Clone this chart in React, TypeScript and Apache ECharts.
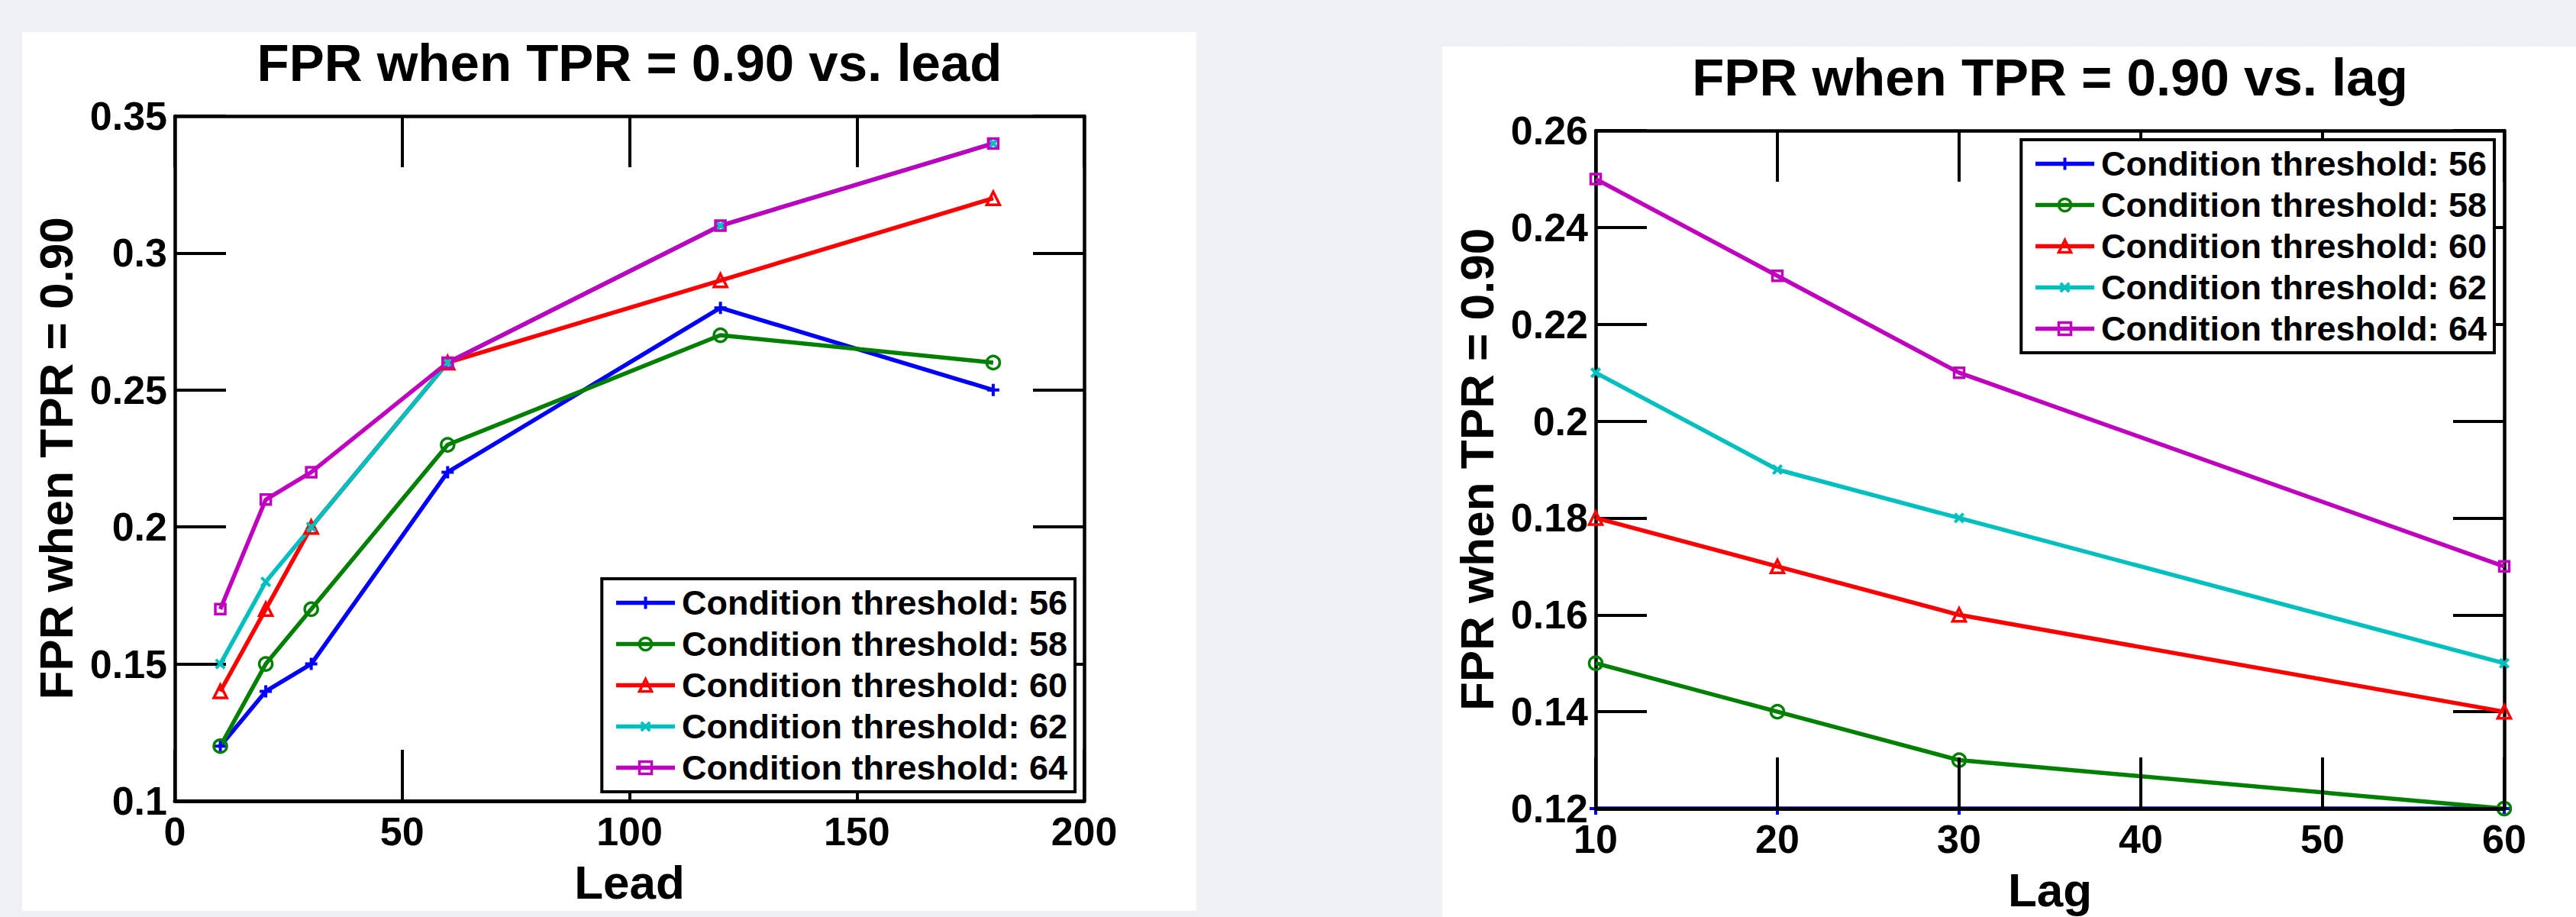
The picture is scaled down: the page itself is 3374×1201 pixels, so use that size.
import React, { useEffect, useRef } from "react";
import * as echarts from "echarts";

const FONT = '"Liberation Sans", Arial, Helvetica, sans-serif';

// ---------- data ----------
const seriesNames = [
  "Condition threshold: 56",
  "Condition threshold: 58",
  "Condition threshold: 60",
  "Condition threshold: 62",
  "Condition threshold: 64",
];

const leadTitle = "FPR when TPR = 0.90 vs. lead";
const leadXName = "Lead";
const leadX = [10, 20, 30, 60, 120, 180];
const lead56 = [0.12, 0.14, 0.15, 0.22, 0.28, 0.25];
const lead58 = [0.12, 0.15, 0.17, 0.23, 0.27, 0.26];
const lead60 = [0.14, 0.17, 0.2, 0.26, 0.29, 0.32];
const lead62 = [0.15, 0.18, 0.2, 0.26, 0.31, 0.34];
const lead64 = [0.17, 0.21, 0.22, 0.26, 0.31, 0.34];
const leadXTicks = [0, 50, 100, 150, 200];
const leadYTicks = [0.1, 0.15, 0.2, 0.25, 0.3, 0.35];

const lagTitle = "FPR when TPR = 0.90 vs. lag";
const lagXName = "Lag";
const lagX = [10, 20, 30, 60];
const lag56 = [0.12, 0.12, 0.12, 0.12];
const lag58 = [0.15, 0.14, 0.13, 0.12];
const lag60 = [0.18, 0.17, 0.16, 0.14];
const lag62 = [0.21, 0.19, 0.18, 0.15];
const lag64 = [0.25, 0.23, 0.21, 0.17];
const lagXTicks = [10, 20, 30, 40, 50, 60];
const lagYTicks = [0.12, 0.14, 0.16, 0.18, 0.2, 0.22, 0.24, 0.26];

const yName = "FPR when TPR = 0.90";

// ---------- styles ----------
const seriesColors = ["#0000ff", "#008000", "#ff0000", "#00bfbf", "#bf00bf"];
const PLUS = "path://M6,0H10V6H16V10H10V16H6V10H0V6H6Z";
const markerSymbols = [PLUS, "circle", "triangle", PLUS, "rect"];
const markerRotate = [0, 0, 0, 45, 0];
const markerSizes = [16, 17, 17, 16, 13];
const markerHollow = [false, true, true, false, true];

function tickInterval(t: number[]) {
  return +(t[1] - t[0]).toFixed(6);
}

function buildSeries(xs: number[], ys: number[][], underAxis: number[]) {
  return ys.map((vals, i) => {
    const c = seriesColors[i];
    return {
      type: "line",
      name: seriesNames[i],
      data: xs.map((x, j) => [x, vals[j]]),
      symbol: markerSymbols[i],
      symbolSize: markerSizes[i],
      symbolRotate: markerRotate[i],
      showSymbol: true,
      showAllSymbol: true,
      z: underAxis.indexOf(i) >= 0 ? -1 : 2,
      lineStyle: { color: c, width: 5.5 },
      itemStyle: markerHollow[i]
        ? { color: "rgba(0,0,0,0)", borderColor: c, borderWidth: 3.5 }
        : { color: c, borderColor: c, borderWidth: 0 },
      emphasis: { disabled: true },
    };
  });
}

const labelStyle = {
  fontSize: 52,
  fontWeight: "bold" as const,
  fontFamily: FONT,
  color: "#000",
};

function axisBase(extra: any) {
  return {
    type: "value",
    splitLine: { show: false },
    axisLine: { show: true, onZero: false, lineStyle: { color: "#000", width: 4.5 } },
    axisTick: { show: true, inside: true, length: 67, lineStyle: { color: "#000", width: 4 } },
    ...extra,
  };
}

function buildOption(cfg: {
  title: string;
  titleX: number;
  xName: string;
  xs: number[];
  ys: number[][];
  xTicks: number[];
  yTicks: number[];
  grid: { left: number; top: number; width: number; height: number };
  legendPos: any;
  underAxis: number[];
}) {
  const xMin = cfg.xTicks[0];
  const xMax = cfg.xTicks[cfg.xTicks.length - 1];
  const xInt = tickInterval(cfg.xTicks);
  const yMin = cfg.yTicks[0];
  const yMax = cfg.yTicks[cfg.yTicks.length - 1];
  const yInt = tickInterval(cfg.yTicks);
  return {
    animation: false,
    title: {
      text: cfg.title,
      left: cfg.titleX,
      top: 5.5,
      padding: 0,
      textAlign: "center",
      textStyle: { fontSize: 69, fontWeight: "bold", fontFamily: FONT, color: "#000" },
    },
    grid: { ...cfg.grid, containLabel: false },
    xAxis: [
      axisBase({
        position: "bottom",
        min: xMin,
        max: xMax,
        interval: xInt,
        z: 3,
        axisLine: { show: true, onZero: false, lineStyle: { color: "#000", width: 5 } },
        axisLabel: { ...labelStyle, margin: 14 },
        name: cfg.xName,
        nameLocation: "middle",
        nameGap: 75,
        nameTextStyle: { fontSize: 62, fontWeight: "bold", fontFamily: FONT, color: "#000" },
      }),
      axisBase({
        position: "top",
        min: xMin,
        max: xMax,
        interval: xInt,
        axisLabel: { show: false },
      }),
    ],
    yAxis: [
      axisBase({
        position: "left",
        min: yMin,
        max: yMax,
        interval: yInt,
        axisLabel: { ...labelStyle, margin: 10 },
        name: yName,
        nameLocation: "middle",
        nameGap: 125,
        nameTextStyle: { fontSize: 62, fontWeight: "bold", fontFamily: FONT, color: "#000" },
      }),
      axisBase({
        position: "right",
        min: yMin,
        max: yMax,
        interval: yInt,
        axisLabel: { show: false },
      }),
    ],
    legend: {
      orient: "vertical",
      ...cfg.legendPos,
      backgroundColor: "#fff",
      borderColor: "#000",
      borderWidth: 4,
      borderRadius: 0,
      padding: [9, 10, 9, 16],
      itemGap: 9,
      itemWidth: 77,
      itemHeight: 20,
      selectedMode: false,
      lineStyle: { width: 5.5 },
      textStyle: {
        fontSize: 45,
        fontWeight: "bold",
        fontFamily: FONT,
        color: "#000",
        lineHeight: 45,
        padding: [0, 0, 0, 4],
      },
      data: seriesNames.map((n, i) => ({
        name: n,
        itemStyle: { borderWidth: markerHollow[i] ? 3.5 : 0 },
      })),
    },
    series: buildSeries(cfg.xs, cfg.ys, cfg.underAxis),
  };
}

function Chart({ option, style }: { option: any; style: React.CSSProperties }) {
  const ref = useRef<HTMLDivElement>(null);
  useEffect(() => {
    if (!ref.current) return;
    const chart = echarts.init(ref.current, undefined, { renderer: "svg" });
    chart.setOption(option);
    return () => chart.dispose();
  }, [option]);
  return <div ref={ref} style={{ position: "absolute", background: "#fff", ...style }} />;
}

const leadOption = buildOption({
  title: leadTitle,
  titleX: 795.5,
  xName: leadXName,
  xs: leadX,
  ys: [lead56, lead58, lead60, lead62, lead64],
  xTicks: leadXTicks,
  yTicks: leadYTicks,
  grid: { left: 200, top: 110, width: 1191, height: 897 },
  legendPos: { right: 159, bottom: 156 },
  underAxis: [],
});

const lagOption = buildOption({
  title: lagTitle,
  titleX: 796,
  xName: lagXName,
  xs: lagX,
  ys: [lag56, lag58, lag60, lag62, lag64],
  xTicks: lagXTicks,
  yTicks: lagYTicks,
  grid: { left: 201, top: 110, width: 1190, height: 898 },
  legendPos: { right: 107, top: 122 },
  underAxis: [0],
});

export default function App() {
  return (
    <div
      style={{
        position: "absolute",
        left: 0,
        top: 0,
        width: 3374,
        height: 1201,
        background: "#eff0f5",
        overflow: "hidden",
      }}
    >
      <Chart option={leadOption} style={{ left: 29, top: 42, width: 1538, height: 1151 }} />
      <Chart option={lagOption} style={{ left: 1889, top: 61, width: 1485, height: 1140 }} />
    </div>
  );
}
